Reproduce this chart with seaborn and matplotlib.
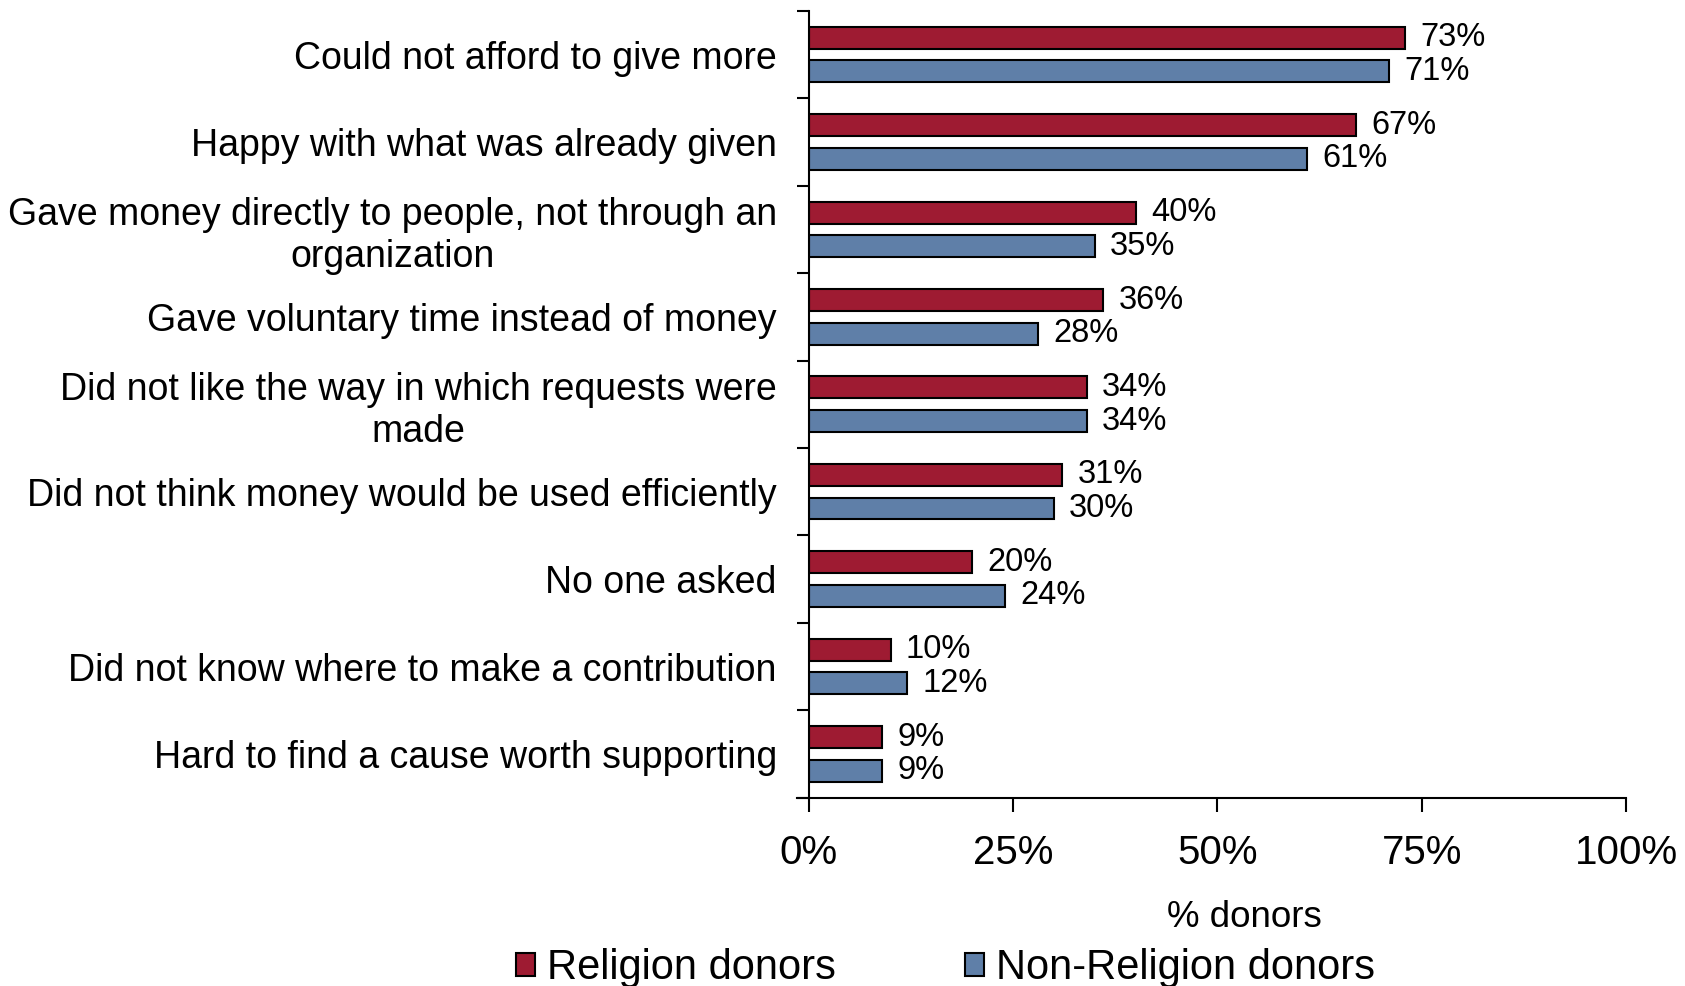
import matplotlib
matplotlib.use("Agg")
import matplotlib.pyplot as plt
import numpy as np
import pandas as pd
import seaborn as sns

# reasons for not giving more, share of donors
reasons = [
    "Could not afford to give more",
    "Happy with what was already given",
    "Gave money directly to people, not through an\norganization",
    "Gave voluntary time instead of money",
    "Did not like the way in which requests were\nmade",
    "Did not think money would be used efficiently",
    "No one asked",
    "Did not know where to make a contribution",
    "Hard to find a cause worth supporting",
]
religion = [73, 67, 40, 36, 34, 31, 20, 10, 9]
non_religion = [71, 61, 35, 28, 34, 30, 24, 12, 9]
groups = ["Religion donors", "Non-Religion donors"]
colors = ["#9E1B32", "#5F7FA8"]
xticks = [0, 25, 50, 75, 100]

sns.set_style("ticks")
plt.rcParams["font.family"] = ["Liberation Sans", "DejaVu Sans"]
plt.rcParams["text.color"] = "black"
plt.rcParams["xtick.color"] = "black"
plt.rcParams["ytick.color"] = "black"
plt.rcParams["axes.labelcolor"] = "black"

df = pd.DataFrame({
    "reason": reasons * 2,
    "value": religion + non_religion,
    "group": [groups[0]] * len(reasons) + [groups[1]] * len(reasons),
})

fig = plt.figure(figsize=(16.85, 9.86), dpi=100)
ax = fig.add_axes([0.480, 0.191, 0.485, 0.798])

sns.barplot(data=df, y="reason", x="value", hue="group", order=reasons,
            hue_order=groups, palette=colors, saturation=1, orient="h",
            width=0.77, gap=0.35, edgecolor="black", linewidth=1.5, ax=ax)

for cont in ax.containers:
    ax.bar_label(cont, fmt="{:.0f}%", padding=11, fontsize=23.5)

ax.set_xlim(0, 100)
ax.set_xticks(xticks)
ax.set_xticklabels([f"{t}%" for t in xticks], fontsize=29)
ax.tick_params(axis="x", length=10, width=1.5, direction="out", pad=16)

ax.set_yticks(range(len(reasons)))
ax.set_yticklabels(reasons, fontsize=27, multialignment="center")
ax.set_yticks(np.arange(-0.5, len(reasons), 1), minor=True)
ax.tick_params(axis="y", which="major", length=0, pad=23)
ax.tick_params(axis="y", which="minor", length=9, width=1.5, direction="out")
ax.set_ylim(len(reasons) - 0.5, -0.5)

ax.set_ylabel("")
ax.set_xlabel("% donors", fontsize=26.5)
ax.xaxis.set_label_coords(0.533, -0.130)

sns.despine(ax=ax)
for s in ["left", "bottom"]:
    ax.spines[s].set_linewidth(1.5)
    ax.spines[s].set_color("black")
ax.spines["bottom"].set_bounds(-1.5, 100)

handles, labels = ax.get_legend_handles_labels()
ax.get_legend().remove()
fig.legend(handles, labels, loc="center", bbox_to_anchor=(0.561, 0.018), ncol=2,
           frameon=False, fontsize=30, handlelength=0.46, handleheight=0.46,
           handletextpad=0.28, columnspacing=3.1)

fig.savefig("out.png", dpi=100)
